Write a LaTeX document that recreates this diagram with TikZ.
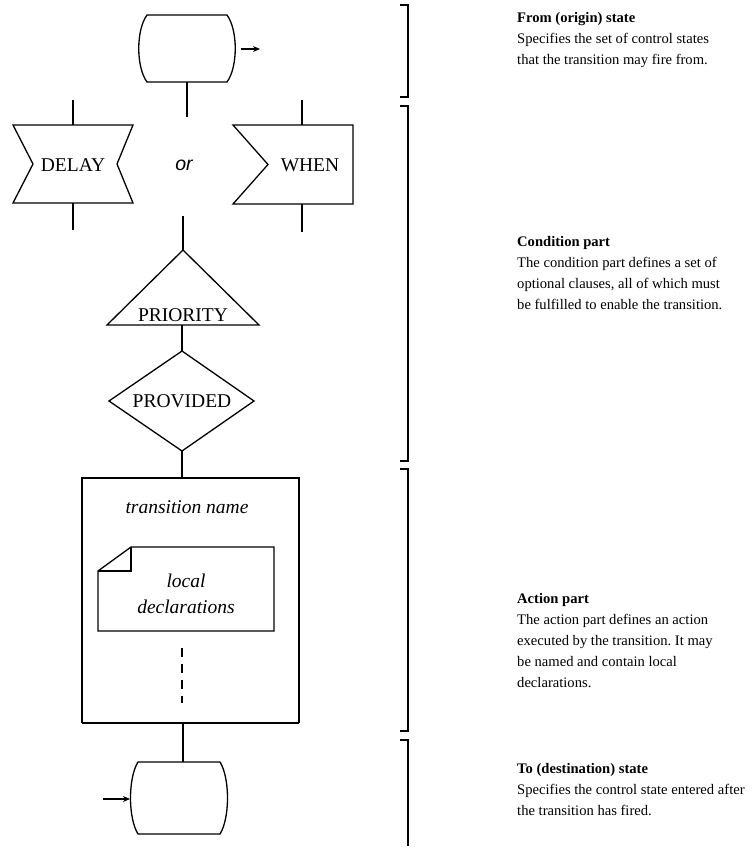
\documentclass[tikz,border=0pt]{standalone}
\usepackage{fontspec}
\setmainfont{Liberation Serif}
\newfontfamily\orfont{Liberation Sans}
\usetikzlibrary{arrows.meta}
\frenchspacing
\begin{document}
\begin{tikzpicture}[x=1pt,y=-1pt,
  outline/.style={line width=1.3pt, line join=miter},
  conn/.style={line width=1.1pt},
  flow/.style={conn, -{Stealth[length=7pt,width=6pt]}},
  bracket/.style={line width=1.2pt},
  sym/.style={font=\fontsize{19.5}{22}\selectfont, inner sep=0pt, anchor=base},
  symit/.style={sym, font=\fontsize{19.5}{22}\selectfont\itshape},
  note/.style={font=\fontsize{14.6}{21}\selectfont, inner sep=0pt, anchor=base west},
  notehead/.style={note, font=\fontsize{14.6}{21}\selectfont\bfseries}]
\useasboundingbox (0,0) rectangle (752,847);

% ---------- from (origin) state ----------
\draw[outline] (147,15) -- (227,15) .. controls (238,30) and (238,67) .. (227,82)
  -- (147,82) .. controls (136,67) and (136,30) .. cycle;
\coordinate (fromB) at (187,82);
\coordinate (fromEnd) at (187,117);
\coordinate (outA) at (241,49);
\coordinate (outB) at (260,49);
\draw[conn] (fromB) -- (fromEnd);
\draw[flow] (outA) -- (outB);

% ---------- DELAY ----------
\draw[outline] (13,125) -- (133,125) -- (117,164) -- (133,203) -- (13,203) -- (33,164) -- cycle;
\node[sym] (delay) at (73,171) {DELAY};
\coordinate (delayT) at (73,125);
\coordinate (delayB) at (73,203);
\coordinate (delayIn) at (73,100);
\coordinate (delayOut) at (73,230);
\draw[conn] (delayIn) -- (delayT);
\draw[conn] (delayB) -- (delayOut);

% ---------- or ----------
\node[sym, font=\fontsize{19.5}{22}\selectfont\orfont\itshape] (or) at (184,170) {or};

% ---------- WHEN ----------
\draw[outline] (233,125) -- (353,125) -- (353,204) -- (233,204) -- (268,164.5) -- cycle;
\node[sym] (when) at (310,171) {WHEN};
\coordinate (whenT) at (302,125);
\coordinate (whenB) at (302,204);
\coordinate (whenIn) at (302,100);
\coordinate (whenOut) at (302,232);
\draw[conn] (whenIn) -- (whenT);
\draw[conn] (whenB) -- (whenOut);

% ---------- PRIORITY ----------
\coordinate (prioTop) at (183,250);
\coordinate (prioBot) at (182,325);
\coordinate (orLine) at (183,216);
\draw[outline] (prioTop) -- (259,325) -- (107,325) -- cycle;
\node[sym] (prio) at (183,321) {PRIORITY};
\draw[conn] (orLine) -- (prioTop);

% ---------- PROVIDED ----------
\coordinate (provTop) at (182,351);
\coordinate (provBot) at (182,451);
\draw[outline] (provTop) -- (254,401) -- (provBot) -- (109,401) -- cycle;
\node[sym] (prov) at (182,407.5) {PROVIDED};
\draw[conn] (prioBot) -- (provTop);

% ---------- action (transition) ----------
\coordinate (actTop) at (182,478);
\coordinate (actBot) at (183,723);
\draw[outline] (82,723) -- (82,478) -- (299,478) -- (299,723);
\draw[line width=1.8pt] (82,723) -- (299,723);
\draw[conn] (provBot) -- (actTop);
\node[symit] (tname) at (187,513) {transition name};

% local declarations (text symbol with folded corner)
\draw[outline] (131,547) -- (274,547) -- (274,631) -- (98,631) -- (98,571) -- cycle;
\draw[conn] (131,547) -- (131,571) -- (98,571);
\node[symit] (local) at (186,587) {local};
\node[symit] (decl) at (186,613) {declarations};
\coordinate (dashA) at (182,648);
\coordinate (dashB) at (182,703);
\draw[conn, dash pattern=on 9pt off 7pt] (dashA) -- (dashB);

% ---------- to (destination) state ----------
\draw[outline] (138,762) -- (220,762) .. controls (230,778) and (230,818) .. (220,834)
  -- (138,834) .. controls (128,818) and (128,778) .. cycle;
\coordinate (toT) at (183,762);
\coordinate (inA) at (103,799);
\coordinate (inB) at (130,799);
\draw[conn] (actBot) -- (toT);
\draw[flow] (inA) -- (inB);

% ---------- brackets ----------
\draw[bracket] (400,5) -- (408,5) -- (408,97) -- (400,97);
\draw[bracket] (400,106) -- (408,106) -- (408,461) -- (400,461);
\draw[bracket] (400,469) -- (408,469) -- (408,731) -- (400,731);
\draw[bracket] (400,740) -- (408,740) -- (408,846);

% ---------- explanations ----------
\node[notehead] (h1) at (517,22) {From (origin) state};
\node[note] (h1a) at (517,43) {Specifies the set of control states};
\node[note] (h1b) at (517,64) {that the transition may fire from.};

\node[notehead] (h2) at (517,246) {Condition part};
\node[note] (h2a) at (517,267) {The condition part defines a set of};
\node[note] (h2b) at (517,288) {optional clauses, all of which must};
\node[note] (h2c) at (517,309) {be fulfilled to enable the transition.};

\node[notehead] (h3) at (517,603) {Action part};
\node[note] (h3a) at (517,624) {The action part defines an action};
\node[note] (h3b) at (517,645) {executed by the transition. It may};
\node[note] (h3c) at (517,666) {be named and contain local};
\node[note] (h3d) at (517,687) {declarations.};

\node[notehead] (h4) at (517,773) {To (destination) state};
\node[note] (h4a) at (517,794) {Specifies the control state entered after};
\node[note] (h4b) at (517,815) {the transition has fired.};
\end{tikzpicture}
\end{document}
